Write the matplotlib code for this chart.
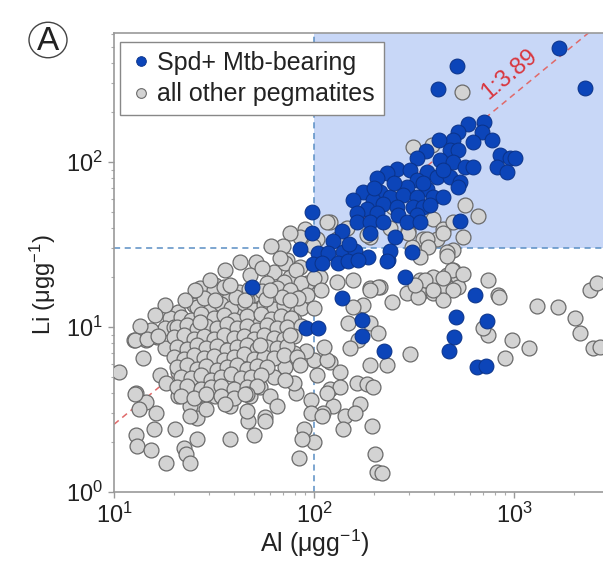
import matplotlib
matplotlib.use("Agg")
import matplotlib.pyplot as plt
from matplotlib.lines import Line2D
from matplotlib.patches import Rectangle, Circle
import numpy as np

plt.rcParams['font.family'] = ['Liberation Sans', 'DejaVu Sans']
plt.rcParams['mathtext.fontset'] = 'custom'
plt.rcParams['mathtext.rm'] = 'Liberation Sans'
plt.rcParams['mathtext.it'] = 'Liberation Sans:italic'

# ---------------- data ----------------
series_names = ["Spd+ Mtb-bearing", "all other pegmatites"]
x_ticks = [10, 100, 1000]
x_ticklabels = [r"$\mathregular{10^{1}}$", r"$\mathregular{10^{2}}$", r"$\mathregular{10^{3}}$"]
y_ticks = [1, 10, 100]
y_ticklabels = [r"$\mathregular{10^{0}}$", r"$\mathregular{10^{1}}$", r"$\mathregular{10^{2}}$"]
al_threshold = 100
li_threshold = 30
ratio = 3.89
ratio_label = "1:3.89"
panel_label = "A"

blue_al = [1679, 2265, 519, 417,
           708, 589, 692, 776, 525, 495, 623, 422, 363, 479, 525, 851, 955, 1012, 822, 922,
           327, 427, 495, 569, 623, 260, 302, 367, 232, 207, 327, 412, 479, 537, 525, 292,
           367, 176, 214, 240, 279, 327, 394, 442, 157, 197, 221, 184, 260, 313, 351, 164,
           207, 263, 327, 164, 191, 221, 292, 339, 537, 98, 138, 98, 254, 124, 85, 105, 117,
           140, 160, 186, 99, 110, 132, 148, 166, 234, 240, 309, 285, 638, 138, 49, 91, 105,
           232, 174, 174, 224, 513, 733, 501, 473, 653, 724, 200, 250, 350, 440, 380, 190, 150]
blue_li = [490, 282, 381, 277,
           174, 170, 151, 135, 152, 135, 132, 135, 117, 118, 118, 110, 105, 105, 93, 87,
           105, 103, 100, 93, 93, 91, 89, 87, 86, 80, 78, 81, 81, 76, 71, 71,
           69, 66, 66, 61, 63, 61, 61, 61, 59, 59, 56, 52, 53, 53, 53, 49,
           49, 48, 48, 43, 43, 43, 43, 43, 44, 50, 38, 37, 35, 33, 29.5, 28, 28,
           28.5, 29, 26.5, 24, 24.5, 24.5, 25, 25.5, 25.5, 29, 28.5, 20, 15.6, 15, 17.4, 9.9, 9.9,
           25, 11, 8.8, 7.2, 11.5, 10.9, 8.7, 7.2, 5.7, 5.8, 70, 75, 75, 90, 55, 37, 32]

gray_al = [
    # upper / right
    550, 569, 661, 556, 394, 442, 495, 295, 351, 240, 412, 263, 313, 389, 247,
    # middle band
    73, 85, 76, 92, 107, 130, 157, 191, 214, 339, 394, 462, 495, 525, 442, 339, 394, 292,
    741, 832, 525, 495, 462, 309, 120, 146, 191, 104, 116, 90, 85, 76, 70, 99, 130, 184,
    # right of 100
    295, 367, 442, 462, 370, 339, 490, 556, 442, 495, 442, 359, 331, 320, 394, 841, 1303,
    1660, 2018, 2138, 2400, 2600, 2483, 2690, 977, 1189, 902, 741, 700, 302, 245, 209, 191,
    176, 157, 148, 191, 209, 166, 151, 232, 191, 120, 135, 164, 184, 197, 120, 135, 170,
    124, 111, 143, 160, 140, 195, 202, 207, 219,
    # left cloud outskirts
    61, 51, 63, 72, 81, 58, 71, 86, 100, 108, 92, 77, 62, 51, 46, 40, 37, 32, 27, 24.5,
    25, 21, 19, 28, 32, 37, 42, 48, 54, 68, 77, 86, 100, 63, 79, 52, 43, 34, 18, 15.3,
    12.6, 14.5, 16.4, 20, 23, 18, 14, 10.6, 17, 18.2, 21, 21.6, 21, 12.9, 14.5, 13.3,
    16.2, 15.8, 12.9, 13.1, 15.3, 18.2, 22.4, 23, 24, 26, 26, 24, 26, 29, 38, 32, 35.5,
    42, 48, 54, 60, 65, 57, 47, 50, 38, 46, 81, 79, 97, 97, 110, 89, 100, 87, 84, 104,
    116, 100, 116, 112, 91, 79, 72, 63, 54, 12.7, 14.6, 16.6, 12.7,
    # dense core
    26.0, 30.5, 34.2, 38.5, 44.7, 50, 56, 63, 71,
    21.6, 24.3, 27.2, 31.6, 35.5, 40, 46, 54.5, 61, 68.5, 77,
    20.6, 23.1, 26, 29, 32.6, 36.7, 41, 46, 52, 58, 65.5, 73, 86,
    20, 22.4, 25.1, 28.2, 31.6, 35.5, 39.8, 44.7, 50.1, 56.2, 63.1, 70.8, 79.4,
    20.6, 23.1, 26, 29, 32.6, 36.7, 41, 46, 52, 58, 65.5, 73,
    20, 22.4, 25.1, 28.2, 31.6, 35.5, 39.8, 44.7, 50.1, 56.2, 63.1, 70.8, 82,
    20.6, 23.1, 26, 29, 32.6, 36.7, 41, 46, 52, 58,
    21.6, 24.3, 27.2, 30.5, 34.2, 38.5, 43, 48.5, 54.5,
    20.6, 23.1, 27.2, 30.5, 34.2, 39.8, 46, 52,
    21.6, 25.1, 29, 34.2, 39.8, 46,
    31.6, 35.5, 42.2, 47.3, 55, 65, 76,
    28.2, 40.7, 57.5, 69, 83,
    # extra cloud points
    30.2, 35.9, 42.7, 47.9, 55, 67.6, 38.0, 25.5, 22.6, 60.3, 75.9, 45.2, 32, 18, 16,
    26.9, 13.5, 53.7, 75.9, 85, 71.6, 45.2, 35.9, 57, 23.9, 20.2,
]
gray_li = [
    265, 55, 47, 35, 45, 39, 43, 38, 34, 40, 34, 65, 123, 126, 53,
    25.5, 23, 20, 18.5, 20, 18.7, 19.3, 17.2, 17.5, 19.3, 20, 20.7, 22, 20, 16.8, 16, 16, 16,
    19.3, 15.6, 17.5, 29.3, 28.5, 30.5, 43, 40, 35, 34, 43, 39, 35, 37, 31, 31, 34, 36,
    37, 34, 37, 27, 30.5, 26.6, 22, 21, 19.8, 16.8, 14.6, 19.3, 15.2, 18, 16.8, 15.2, 13.4,
    13.2, 11.4, 9.2, 16.8, 18.5, 7.5, 7.6, 8.3, 7.5, 6.5, 8.9, 9.9, 6.9, 14.2, 17.5, 16.8,
    13.6, 13.2, 10.6, 10.6, 9.2, 8.3, 7.5, 5.9, 5.9, 6.1, 5.3, 4.6, 4.5, 4.3, 4.2, 4.3, 3.4,
    3.3, 3.0, 2.9, 3.0, 2.4, 2.5, 1.7, 1.32, 1.3,
    31, 24.8, 21.5, 24.5, 22, 18.5, 18.8, 18.5, 19.8, 16.8, 15.6, 15, 14.6, 15.2, 14.6, 16.3, 14.6, 18, 17.2, 14.2,
    13.6, 12.3, 11.3, 11.5, 12.2, 12.3, 12.6, 12.2, 13, 12.6, 12.6, 13, 13, 11.3, 11, 10.7, 10.7, 10.7, 9.9, 9.6,
    8.3, 8.3, 8.7, 10, 10.6, 7.5, 6.5, 5.3, 5.1, 4.6, 5.3, 4.6, 3.8, 4.0, 3.5, 3.2,
    3.0, 2.4, 2.2, 1.9, 1.8, 1.5, 1.85, 1.7, 1.5, 2.1, 2.8, 3.3, 3.8, 3.2, 3.3, 3.8, 4.0,
    4.0, 3.8, 4.3, 3.8, 3.3, 2.85, 2.7, 2.2, 2.1, 3.1, 4.0, 4.6, 3.6, 3.0, 2.9, 2.4, 2.0, 2.1, 1.6, 5.1,
    4.0, 6.3, 6.3, 7.6, 7.2, 7.0, 5.7, 5.0, 5.3, 8.3, 8.5, 8.8, 3.9,
    13.2, 12.8, 13.8, 13.0, 14.0, 12.6, 13.5, 12.9, 13.6,
    11.5, 11.0, 12.0, 11.3, 11.8, 11.1, 11.6, 12.0, 11.2, 11.7, 11.4,
    10, 10.3, 9.7, 10.2, 9.8, 10.4, 9.9, 10.1, 9.6, 10.3, 9.8, 10.0, 10.2,
    8.7, 8.9, 8.5, 8.8, 8.4, 8.9, 8.6, 8.8, 8.5, 8.9, 8.6, 8.4, 8.8,
    7.6, 7.4, 7.8, 7.5, 7.7, 7.3, 7.6, 7.8, 7.4, 7.6, 7.5, 7.7,
    6.6, 6.4, 6.8, 6.5, 6.7, 6.3, 6.6, 6.9, 6.4, 6.6, 6.5, 6.8, 6.6,
    5.7, 5.9, 5.6, 5.8, 5.5, 5.7, 5.9, 5.6, 5.8, 5.7,
    5.0, 4.9, 5.1, 4.8, 5.0, 5.2, 4.9, 5.0, 5.1,
    4.3, 4.4, 4.2, 4.3, 4.4, 4.2, 4.3, 4.4,
    3.8, 3.7, 3.9, 3.8, 3.7, 3.9,
    16.8, 17.4, 16.2, 17.0, 16.5, 17.2, 16.8,
    15, 15.3, 14.8, 15.2, 14.9,
    19.3, 22.1, 24.8, 20.6, 22.8, 26.2, 18, 16.8, 14.6, 16.8, 14.6, 14.6, 14.6, 13.6, 11.8,
    10.7, 10.2, 7.8, 8.9, 5.9, 4.8, 3.9, 3.4, 2.7, 2.9, 2.4,
]

x_range = (10, 2786)
y_range = (1, 605)

# ---------------- figure ----------------
fig = plt.figure(figsize=(6.03, 5.63), dpi=100)
ax = fig.add_axes([114/603, 71/563, 489/603, 459/563])
ax.set_xscale('log')
ax.set_yscale('log')
ax.set_xlim(*x_range)
ax.set_ylim(*y_range)

# shaded region
ax.add_patch(Rectangle((al_threshold, li_threshold), x_range[1] - al_threshold,
                       y_range[1] - li_threshold, facecolor='#c8d7f7',
                       edgecolor='none', zorder=0))
dash_blue = '#5a8ec4'
ax.axvline(al_threshold, color=dash_blue, ls=(0, (4, 3)), lw=1.1, zorder=1)
ax.axhline(li_threshold, color=dash_blue, ls=(0, (4, 3)), lw=1.1, zorder=1)

# ratio line
xl = np.array(x_range, dtype=float)
ax.plot(xl, xl / ratio, color='#e06a6a', ls=(0, (4, 3)), lw=1.1, zorder=1)
ax.text(950, 340, ratio_label, color='#d9363e', fontsize=17, rotation=40,
        ha='center', va='center', rotation_mode='anchor', zorder=5)

ax.scatter(gray_al, gray_li, s=115, facecolor='#d3d3d3', edgecolor='#6a6a6a',
           linewidth=0.9, zorder=3)
ax.scatter(blue_al, blue_li, s=115, facecolor='#0c45b9', edgecolor='#0a3288',
           linewidth=0.7, zorder=4)

# ticks
ax.set_xticks(x_ticks)
ax.set_xticklabels(x_ticklabels)
ax.set_yticks(y_ticks)
ax.set_yticklabels(y_ticklabels)
ax.tick_params(which='major', direction='out', length=4, width=1, color='#999999',
               labelsize=17, pad=4, labelcolor='#222222')
ax.tick_params(which='minor', direction='out', length=2.5, width=0.8, color='#aaaaaa')
for side in ['left', 'bottom', 'top']:
    ax.spines[side].set_color('#999999')
    ax.spines[side].set_linewidth(1.2)
ax.spines['right'].set_visible(False)

ax.set_xlabel("Al (μgg$^{-1}$)", fontsize=18, color='#222222')
ax.set_ylabel("Li (μgg$^{-1}$)", fontsize=17, color='#222222')
ax.xaxis.set_label_coords(0.411, -0.078)
ax.yaxis.set_label_coords(-0.115, 0.451)

handles = [Line2D([], [], marker='o', ls='none', markersize=7, markerfacecolor='#0c45b9',
                  markeredgecolor='#0a3288', markeredgewidth=0.6),
           Line2D([], [], marker='o', ls='none', markersize=7, markerfacecolor='#d3d3d3',
                  markeredgecolor='#6a6a6a', markeredgewidth=0.8)]
leg = ax.legend(handles, series_names, loc='upper left', bbox_to_anchor=(0.012, 0.98),
                borderaxespad=0, fontsize=18, frameon=True, fancybox=False,
                handletextpad=0.15, handlelength=1.0, borderpad=0.35, labelspacing=0.3,
                framealpha=1)
leg.get_frame().set_edgecolor('#888888')
leg.get_frame().set_linewidth(1.0)
leg.set_zorder(6)
for t in leg.get_texts():
    t.set_color('#222222')

# panel label
fig.patches.append(Circle((48/603, 1 - 40/563), 19/603, transform=fig.transFigure,
                          facecolor='white', edgecolor='#444444', lw=1.0))
fig.text(48/603, 1 - 41/563, panel_label, fontsize=24, ha='center', va='center',
         color='#222222')

fig.savefig("out.png", dpi=100)
